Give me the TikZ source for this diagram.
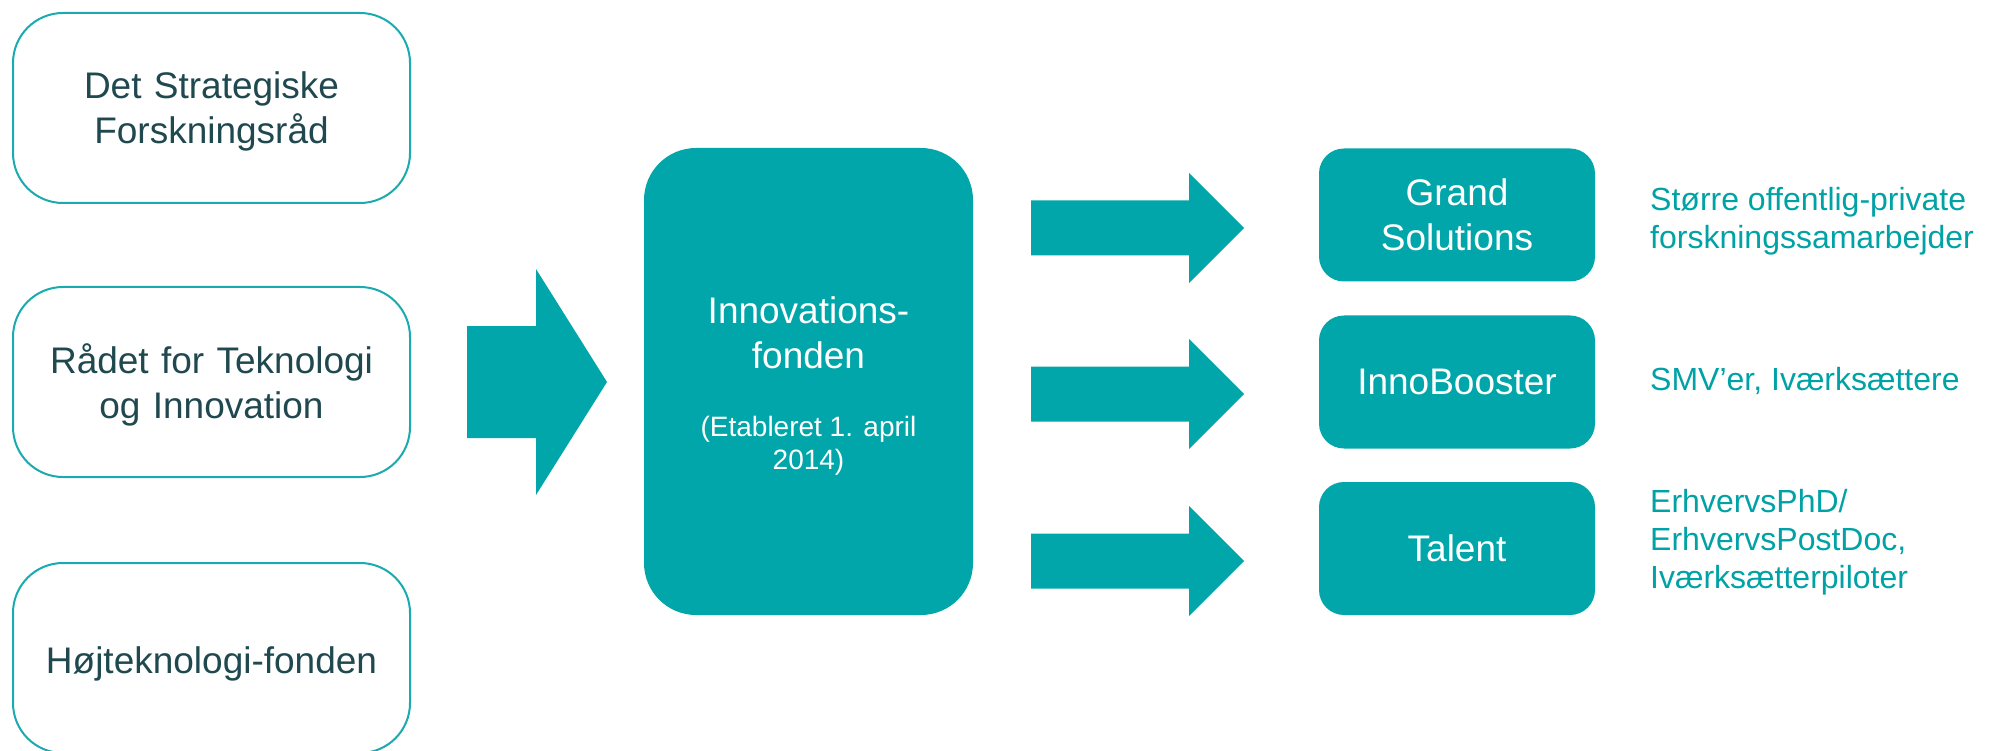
\documentclass[tikz,border=0pt]{standalone}
\usepackage{fontspec}
\setmainfont{Liberation Sans}
\usepackage{xcolor}
\usetikzlibrary{positioning}

\definecolor{ifteal}{RGB}{0,166,169}
\definecolor{ifline}{RGB}{26,170,175}
\definecolor{ifdark}{RGB}{31,72,79}
\definecolor{iftext}{RGB}{0,162,166}

\begin{document}
\begin{tikzpicture}[x=1pt, y=-1pt,
    srcbox/.style={
        rectangle,
        rounded corners=50pt,
        draw=ifline,
        line width=2pt,
        fill=white,
        minimum width=397pt,
        minimum height=190pt
    },
    fundbox/.style={
        rectangle,
        rounded corners=52pt,
        fill=ifteal,
        minimum width=329pt,
        minimum height=467pt
    },
    progbox/.style={
        rectangle,
        rounded corners=25pt,
        fill=ifteal,
        align=center,
        text=white,
        font=\fontsize{37}{45}\selectfont,
        minimum width=276pt,
        minimum height=133pt
    },
    srctxt/.style={text=ifdark, align=center, text width=380pt, inner sep=0pt, font=\fontsize{37}{45}\selectfont},
    fundtxt/.style={text=white, align=center, inner sep=0pt, font=\fontsize{37}{45}\selectfont},
    datetxt/.style={text=white, align=center, inner sep=0pt, font=\fontsize{28}{33}\selectfont},
    desc/.style={text=iftext, align=left, inner sep=0pt, font=\fontsize{32}{38}\selectfont},
    bigarrow/.style={fill=ifteal}
]
\useasboundingbox (0,0) rectangle (1989,751);
\clip (0,0) rectangle (1989,751);

% ===== Old councils =====
\node[srcbox] (dsf) at (211.5,108) {};
\node[srcbox] (rti) at (211.5,382) {};
\node[srcbox] (htf) at (211.5,658) {};
\node[srctxt, anchor=base] (dsftxt) at (211.5,99) {Det Strategiske\\Forskningsråd};
\node[srctxt, anchor=base] (rtitxt) at (211.5,373) {Rådet for Teknologi\\og Innovation};
\node[srctxt, anchor=base] (htftxt) at (211.5,673) {Højteknologi-fonden};

% merge arrow
\coordinate (mergein) at (467,382);
\fill[bigarrow] (mergein) ++(0,-56) -- ++(69,0) -- ++(0,-57) -- ++(71,113)
    -- ++(-71,113) -- ++(0,-57) -- ++(-69,0) -- cycle;

% ===== Innovationsfonden =====
\node[fundbox] (ifund) at (808.5,381.5) {};
\node[fundtxt] (ifname) at (808.5,332.3) {Innovations-\\fonden};
\node[datetxt] (ifdate) at (808.5,446.2) {(Etableret 1. april\\2014)};

% split arrows
\foreach \y in {228,394,561}
    \fill[bigarrow] (1031,\y) ++(0,-27.5) -- ++(158,0) -- ++(0,-27.5) -- ++(55,55)
        -- ++(-55,55) -- ++(0,-27.5) -- ++(-158,0) -- cycle;

% ===== Programmes =====
\node[progbox] (gs) at (1457,215) {Grand\\Solutions};
\node[progbox] (ib) at (1457,382) {InnoBooster};
\node[progbox] (tal) at (1457,548.5) {Talent};

\node[desc, anchor=west] (gsdesc) at (1650,221) {Større offentlig-private\\forskningssamarbejder};
\node[desc, anchor=base west] (ibdesc) at (1650,390) {SMV’er, Iværksættere};
\node[desc, anchor=west] (taldesc) at (1650,542) {ErhvervsPhD/\\ErhvervsPostDoc,\\Iværksætterpiloter};

\end{tikzpicture}
\end{document}
